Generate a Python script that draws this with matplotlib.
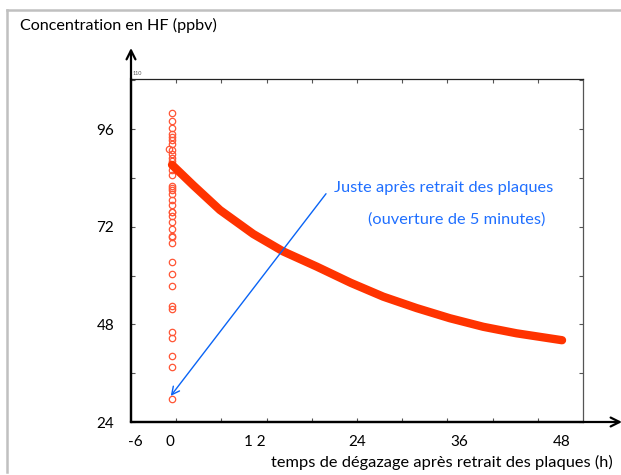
import matplotlib
matplotlib.use("Agg")
import matplotlib.pyplot as plt
from matplotlib.lines import Line2D
import numpy as np

plt.rcParams['font.family'] = ['Lato', 'DejaVu Sans']

# ---- data ----
scatter_t = [0, 0, 0, 0, 0, 0, 0, -0.35, 0, 0, 0, 0, 0, 0, 0, 0, 0, 0, 0, 0,
             0, 0, 0, 0, 0, 0, 0, 0, 0, 0, 0, 0, 0, 0, 0, 0, 0, 0]
scatter_v = [99.9, 98.1, 96.2, 94.8, 94.0, 93.2, 92.3, 91.1, 90.9, 89.9, 88.8,
             88.2, 86.0, 84.7, 82.0, 81.5, 81.0, 80.0, 78.6, 77.4, 75.7, 75.5,
             74.7, 73.1, 71.4, 69.8, 69.4, 67.9, 63.3, 60.4, 57.5, 52.6, 51.8,
             46.1, 44.7, 40.1, 37.4, 29.6]

curve_t = [0, 2.6, 5.9, 10.0, 13.7, 17.8, 22.0, 26.0, 30.1, 34.2, 38.3, 42.4, 48.0]
curve_v = [87.2, 82.2, 76.1, 70.2, 65.9, 62.2, 58.2, 54.8, 52.0, 49.5, 47.4, 45.8, 44.1]

xtick_pos = [-4.55, -0.25, 10.2, 22.8, 35.4, 48.0]
xtick_labels = ['-6', '0', '1 2', '24', '36', '48']
ytick_major = [24, 36, 48, 60, 72, 84, 96, 108]
ytick_labels = ['24', '', '48', '', '72', '', '96', '']

xlim = (-5.05, 50.58)
ylim = (24, 108.3)

annot_line1 = "Juste après retrait des plaques"
annot_line2 = "(ouverture de 5 minutes)"
arrow_from = (18.95, 80.1)
arrow_to = (-0.16, 30.4)

title = "Concentration en HF (ppbv)"
xlabel = "temps de dégazage après retrait des plaques (h)"

# ---- figure ----
W, H = 621, 475
fig = plt.figure(figsize=(W / 100, H / 100), dpi=100)
ax = fig.add_axes([131 / W, 1 - 422 / H, (583 - 131) / W, (422 - 79) / H])

ax.plot(scatter_t, scatter_v, linestyle='none', marker='o', markersize=4.6,
        markerfacecolor='none', markeredgecolor='#ff5535', markeredgewidth=0.9,
        zorder=3)
ax.plot(curve_t, curve_v, color='#ff3300', lw=6.0, solid_capstyle='round',
        solid_joinstyle='round', zorder=4)

ax.set_xlim(*xlim)
ax.set_ylim(*ylim)

ax.set_xticks(xtick_pos)
ax.set_xticklabels(xtick_labels)
ax.set_xticks(np.linspace(xlim[0], xlim[1], 11)[1:-1], minor=True)
ax.tick_params(axis='x', which='major', length=0, pad=9, labelsize=11)
ax.tick_params(axis='x', which='minor', direction='in', length=3, width=0.8,
               top=True, bottom=True, color='#555555')

ax.set_yticks(ytick_major)
ax.set_yticklabels(ytick_labels)
ax.tick_params(axis='y', which='major', direction='in', length=3, width=0.8,
               left=True, right=True, pad=12, labelsize=11, color='#555555')

for s in ['left', 'bottom']:
    ax.spines[s].set_linewidth(1.6)
    ax.spines[s].set_color('black')
ax.spines['top'].set_linewidth(0.9)
ax.spines['top'].set_color('#222222')
ax.spines['right'].set_linewidth(0.9)
ax.spines['right'].set_color('#555555')

# axis arrows
ax.annotate('', xy=(131, H - 48), xytext=(131, H - 422), xycoords='figure pixels',
            textcoords='figure pixels',
            arrowprops=dict(arrowstyle='->', lw=1.6, color='black', mutation_scale=16,
                            shrinkA=0, shrinkB=0))
ax.annotate('', xy=(622, H - 422), xytext=(131, H - 422), xycoords='figure pixels',
            textcoords='figure pixels',
            arrowprops=dict(arrowstyle='->', lw=1.6, color='black', mutation_scale=16,
                            shrinkA=0, shrinkB=0))

# tiny corner label
fig.text(133 / W, 1 - 76 / H, '110', fontsize=4, color='#555555', va='bottom')

# annotation
blue = '#1f6fff'
ax.text(19.9, 81.5, annot_line1, color=blue, fontsize=11.8, va='center', ha='left')
ax.text(24.1, 73.7, annot_line2, color=blue, fontsize=11.8, va='center', ha='left')
ax.annotate('', xy=arrow_to, xytext=arrow_from,
            arrowprops=dict(arrowstyle='->', lw=1.0, color='#0a64f5', mutation_scale=14,
                            shrinkA=0, shrinkB=0), zorder=5)

# title and x label
fig.text(20 / W, 1 - 25 / H, title, fontsize=11.6, va='center', ha='left', color='black')
fig.text(613 / W, 1 - 462 / H, xlabel, fontsize=11.8, va='center', ha='right', color='black')

# outer gray border
fig.add_artist(Line2D([7 / W, 7 / W], [1 - 472 / H, 1 - 10 / H], color='#c0c0c0', lw=1.8,
                      transform=fig.transFigure))
fig.add_artist(Line2D([7 / W, 1.0], [1 - 10 / H, 1 - 10 / H], color='#c0c0c0', lw=1.8,
                      transform=fig.transFigure))

fig.savefig('out.png', dpi=100)
